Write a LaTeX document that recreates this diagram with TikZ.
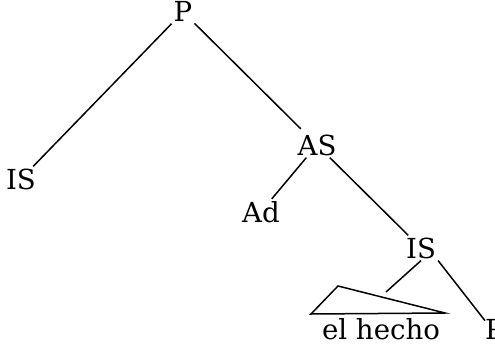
\documentclass[tikz,border=0pt]{standalone}
\usepackage{fontspec}
\setmainfont{DejaVu Serif}
\begin{document}
\begin{tikzpicture}[x=1pt,y=-1pt,
  lbl/.style={inner sep=2pt, anchor=base, font=\fontsize{27.6}{30}\selectfont},
  edge/.style={line width=1.5pt}]
\useasboundingbox (0,0) rectangle (495,345);
\node[lbl] (P) at (183,22) {P};
\node[lbl] (IS1) at (21,189) {IS};
\node[lbl] (AS) at (317,155) {AS};
\node[lbl] (Ad) at (261,222) {Ad};
\node[lbl] (IS2) at (421,258) {IS};
\node[lbl, inner sep=0pt] (eh) at (381,339) {el hecho};
\node[lbl, anchor=base west, inner sep=0pt] (P2) at (485,339) {P};
\coordinate (tri) at (386,292);
\coordinate (ta) at (338,286);
\coordinate (tl) at (311,314);
\coordinate (tr) at (445,313);
\draw[edge] (P) -- (IS1);
\draw[edge, shorten >=5pt] (P) -- (AS);
\draw[edge] (AS) -- (Ad);
\draw[edge] (AS) -- (IS2);
\draw[edge] (IS2.south) -- (tri);
\draw[edge] (IS2.south east) -- ([yshift=-2pt]P2.north west);
\draw[edge, line join=miter] (ta) -- (tl) -- (tr) -- cycle;
\end{tikzpicture}
\end{document}
